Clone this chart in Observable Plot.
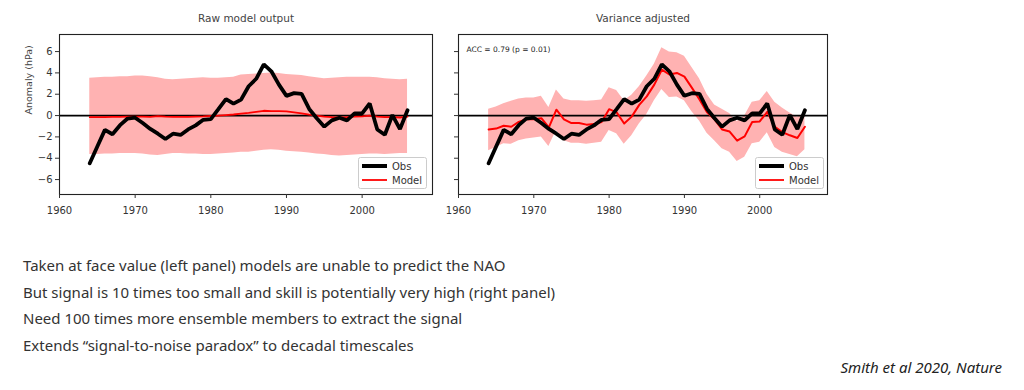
<!DOCTYPE html>
<html>
<head>
<meta charset="utf-8">
<script src="https://cdn.jsdelivr.net/npm/d3@7"></script>
<script src="https://cdn.jsdelivr.net/npm/@observablehq/plot@0.6"></script>
<style>
  html, body { margin: 0; padding: 0; background: #fff; }
  #wrap { position: relative; width: 1024px; height: 390px; overflow: hidden; font-family: "DejaVu Sans", sans-serif; }
  .panel { position: absolute; top: 0; }
  .legend { position: absolute; }
  .note { position: absolute; left: 23px; font-family: "Noto Sans", sans-serif; font-size: 15px; line-height: 20px; color: #333; white-space: nowrap; }
  .cite { position: absolute; right: 22px; top: 357px; font-family: "Noto Sans", sans-serif; font-style: italic; font-size: 15px; line-height: 20px; color: #222; white-space: nowrap; }
</style>
</head>
<body>
<div id="wrap">
  <div id="left" class="panel" style="left:0px"></div>
  <div id="right" class="panel" style="left:440px"></div>
</div>
<script>
// ---- Data ----
const years = [1964,1965,1966,1967,1968,1969,1970,1971,1972,1973,1974,1975,1976,1977,1978,1979,1980,1981,1982,1983,1984,1985,1986,1987,1988,1989,1990,1991,1992,1993,1994,1995,1996,1997,1998,1999,2000,2001,2002,2003,2004,2005,2006];

const obs = [-4.47,-2.9,-1.34,-1.75,-0.9,-0.28,-0.2,-0.7,-1.25,-1.7,-2.2,-1.7,-1.82,-1.3,-0.92,-0.4,-0.34,0.6,1.55,1.12,1.5,2.75,3.45,4.8,4.15,2.9,1.85,2.1,2.03,0.62,-0.25,-1.04,-0.45,-0.2,-0.45,0.2,0.2,1.13,-1.3,-1.8,0.05,-1.27,0.5];

const rawModel = [-0.15,-0.15,-0.15,-0.12,-0.12,-0.1,-0.1,-0.1,-0.12,-0.05,-0.1,-0.12,-0.12,-0.12,-0.1,-0.08,-0.02,0.0,0.05,0.1,0.18,0.25,0.35,0.45,0.42,0.42,0.4,0.3,0.2,0.08,0.0,-0.1,-0.15,-0.18,-0.15,-0.1,-0.08,0.0,-0.1,-0.15,-0.15,-0.18,-0.1];
const rawHi = [3.5,3.55,3.6,3.6,3.65,3.65,3.7,3.7,3.65,3.55,3.4,3.35,3.4,3.45,3.5,3.55,3.5,3.5,3.55,3.6,3.8,3.85,3.9,3.95,4.0,3.95,3.85,3.8,3.75,3.65,3.55,3.45,3.5,3.55,3.6,3.6,3.6,3.6,3.55,3.45,3.4,3.35,3.4];
const rawLo = [-3.65,-3.65,-3.6,-3.6,-3.55,-3.55,-3.55,-3.6,-3.7,-3.75,-3.65,-3.55,-3.55,-3.6,-3.6,-3.65,-3.65,-3.6,-3.55,-3.5,-3.45,-3.45,-3.35,-3.25,-3.2,-3.25,-3.35,-3.4,-3.45,-3.5,-3.6,-3.65,-3.75,-3.8,-3.75,-3.7,-3.65,-3.6,-3.6,-3.65,-3.6,-3.55,-3.55];

const adjModel = [-1.3,-1.22,-0.95,-1.05,-0.6,-0.35,-0.35,-0.25,-1.1,0.55,-0.35,-0.7,-0.7,-0.85,-0.8,-0.6,0.6,0.3,-0.75,-0.1,1.0,1.8,2.9,4.3,3.85,4.0,3.65,2.6,1.5,0.3,-0.35,-1.3,-1.5,-2.35,-1.95,-0.6,-0.55,0.35,-1.05,-1.55,-1.85,-2.1,-1.05];
const adjHi = [0.6,0.8,1.1,1.35,1.55,1.65,1.65,1.8,0.75,2.4,1.55,1.4,1.4,1.35,1.4,1.45,2.6,2.35,1.4,1.9,2.7,3.7,4.8,6.35,5.95,5.9,5.55,4.5,3.45,2.0,1.0,0.6,0.2,-0.55,-0.05,1.25,1.4,2.25,1.25,0.7,0.25,-0.15,0.2];
const adjLo = [-3.3,-3.0,-2.65,-2.7,-2.35,-2.2,-2.1,-2.0,-2.9,-1.4,-2.35,-2.6,-2.6,-2.7,-2.6,-2.5,-1.4,-1.7,-2.7,-1.9,-0.8,0.1,1.4,2.45,1.7,1.75,1.4,0.35,-0.5,-1.65,-2.35,-3.1,-3.45,-4.3,-3.9,-2.65,-2.5,-1.6,-3.0,-3.45,-3.65,-3.85,-3.2];

const xTicks = [1960,1970,1980,1990,2000];
const yTicks = [-6,-4,-2,0,2,4,6];
const titles = ["Raw model output", "Variance adjusted"];
const yLabel = "Anomaly (hPa)";
const accText = "ACC = 0.79 (p = 0.01)";
const legendLabels = ["Obs", "Model"];
const notes = [
  "Taken at face value (left panel) models are unable to predict the NAO",
  "But signal is 10 times too small and skill is potentially very high (right panel)",
  "Need 100 times more ensemble members to extract the signal",
  "Extends \u201csignal-to-noise paradox\u201d to decadal timescales"
];
const citation = "Smith et al 2020, Nature";

// ---- Build tables ----
const rawData = years.map((y, i) => ({year: y, obs: obs[i], model: rawModel[i], lo: rawLo[i], hi: rawHi[i]}));
const adjData = years.map((y, i) => ({year: y, obs: obs[i], model: adjModel[i], lo: adjLo[i], hi: adjHi[i]}));

const BAND = "#ffb2b2";
const H = 225;

function panel(data, opts) {
  const marks = [
    Plot.areaY(data, {x: "year", y1: "lo", y2: "hi", fill: BAND, curve: "linear"}),
    Plot.ruleY([0], {stroke: "#000", strokeWidth: 1.8}),
    Plot.lineY(data, {x: "year", y: "model", stroke: "#ff0000", strokeWidth: opts.modelWidth}),
    Plot.lineY(data, {x: "year", y: "obs", stroke: "#000", strokeWidth: 3.8, strokeLinejoin: "miter"}),
    Plot.frame({stroke: "#222", strokeWidth: 1.1}),
    Plot.axisX(xTicks, {tickFormat: "d", tickSize: 4, tickPadding: 8, fontSize: 10, fill: "#333", stroke: "#333", label: null}),
    Plot.axisY(yTicks, {tickSize: 4, tickPadding: 3, fontSize: 10, fill: "#333", stroke: "#333", label: null,
      tickFormat: opts.yLabels ? (d => d === 0 ? "0" : d3.format("")(d)) : (() => "")}),
    Plot.text([opts.title], {frameAnchor: "top", dy: -16, fontSize: 10.5, fill: "#444", lineAnchor: "middle"})
  ];
  if (opts.yLabels) {
    marks.push(Plot.text([yLabel], {frameAnchor: "left", dx: -31, rotate: -90, fontSize: 9.5, fill: "#444", lineAnchor: "middle"}));
  }
  if (opts.acc) {
    marks.push(Plot.text([opts.acc], {frameAnchor: "top-left", dx: 8, dy: 15, fontSize: 7.5, fill: "#222", textAnchor: "start", lineAnchor: "middle"}));
  }
  return Plot.plot({
    width: opts.width,
    height: H,
    marginLeft: opts.ml,
    marginRight: opts.mr,
    marginTop: 34,
    marginBottom: 31,
    style: {fontFamily: "DejaVu Sans, sans-serif", background: "transparent", overflow: "visible"},
    x: {domain: opts.xdomain},
    y: {domain: [-7.4, 7.6]},
    marks
  });
}

function legend(left, top) {
  const ns = "http://www.w3.org/2000/svg";
  const svg = document.createElementNS(ns, "svg");
  svg.setAttribute("width", 70); svg.setAttribute("height", 33);
  svg.setAttribute("class", "legend");
  svg.style.left = left + "px"; svg.style.top = top + "px";
  svg.innerHTML =
    `<rect x="0.5" y="0.5" width="68" height="31" rx="2" fill="rgba(255,255,255,0.85)" stroke="#ccc"/>` +
    `<line x1="4" x2="29" y1="9" y2="9" stroke="#000" stroke-width="4"/>` +
    `<line x1="4" x2="29" y1="23" y2="23" stroke="#ff0000" stroke-width="1.8"/>` +
    `<text x="34" y="9" dy="0.35em" font-family="DejaVu Sans" font-size="10" fill="#333">${legendLabels[0]}</text>` +
    `<text x="34" y="23" dy="0.35em" font-family="DejaVu Sans" font-size="10" fill="#333">${legendLabels[1]}</text>`;
  return svg;
}

const wrap = document.getElementById("wrap");
document.getElementById("left").appendChild(panel(rawData, {width: 440, ml: 59, mr: 8, xdomain: [1960, 2009.3], yLabels: true, title: titles[0], modelWidth: 1.8}));
document.getElementById("right").appendChild(panel(adjData, {width: 400, ml: 18, mr: 13, xdomain: [1960, 2009], yLabels: false, title: titles[1], acc: accText, modelWidth: 2}));
wrap.appendChild(legend(358, 157));
wrap.appendChild(legend(755, 157));

const noteTops = [255, 282, 308, 335];
notes.forEach((t, i) => {
  const d = document.createElement("div");
  d.className = "note";
  d.style.top = noteTops[i] + "px";
  d.textContent = t;
  wrap.appendChild(d);
});
const c = document.createElement("div");
c.className = "cite";
c.textContent = citation;
wrap.appendChild(c);
</script>
</body>
</html>
